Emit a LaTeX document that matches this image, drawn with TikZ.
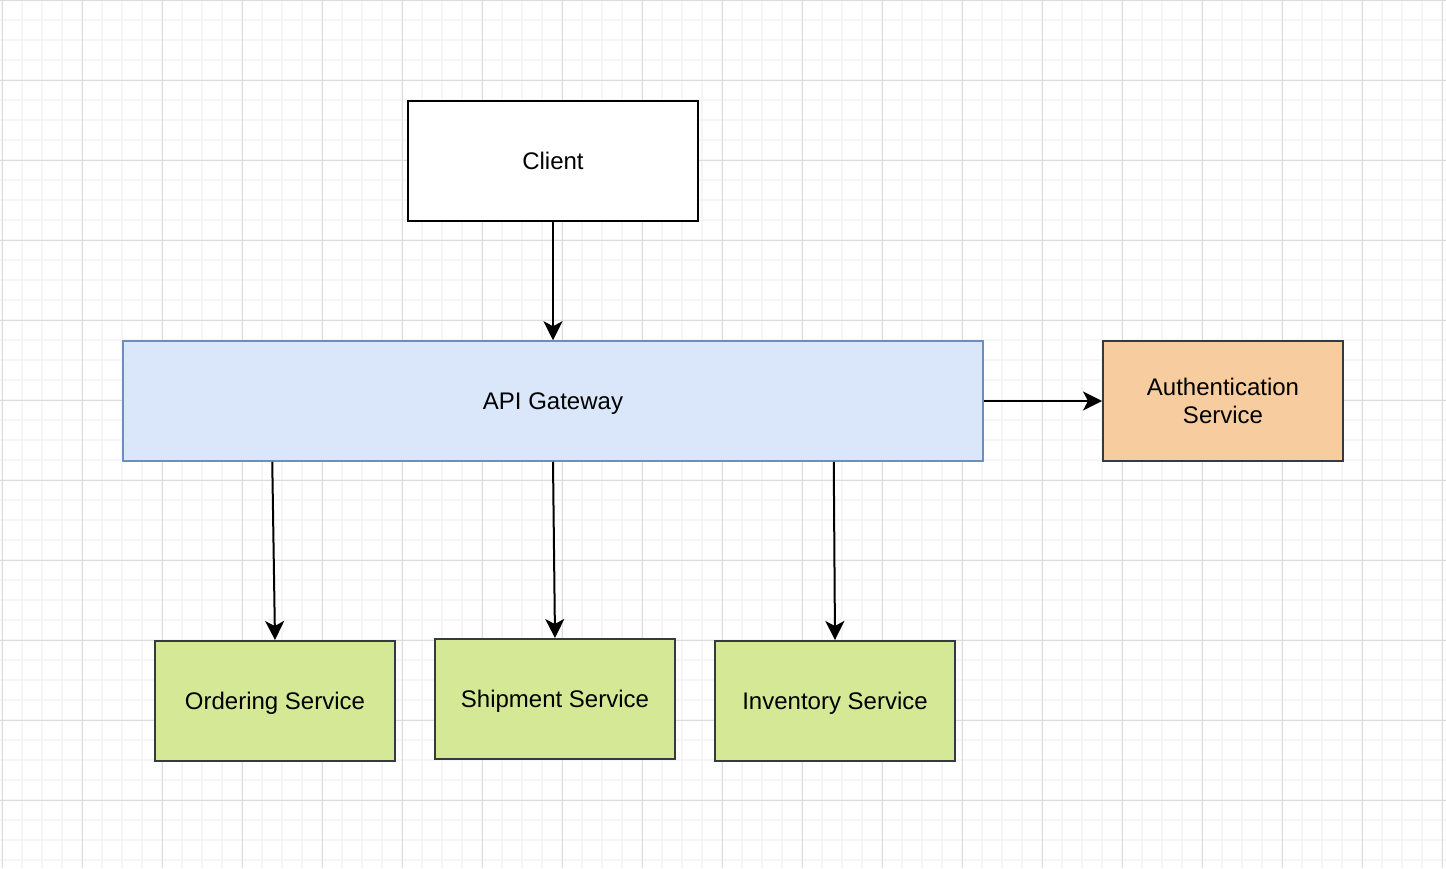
\documentclass[tikz,border=0pt]{standalone}
\usepackage{fontspec}
\setmainfont{Liberation Sans}
\usetikzlibrary{arrows.meta}
\definecolor{gridminor}{HTML}{F5F5F5}
\definecolor{gridmajor}{HTML}{DCDCDC}
\definecolor{apifill}{HTML}{DAE7FB}
\definecolor{apistroke}{HTML}{6C8EBF}
\definecolor{authfill}{HTML}{F7CD9F}
\definecolor{svcfill}{HTML}{D4E895}
\definecolor{darkstroke}{HTML}{36393D}
\tikzset{
  box/.style={draw, line width=2pt, minimum width=290pt, minimum height=120pt, inner sep=0pt, align=center, text depth=0pt, font=\fontsize{24}{28}\selectfont},
  svcbox/.style={box, fill=svcfill, draw=darkstroke, minimum width=240pt},
  arr/.style={line width=2pt, -{Stealth[length=19pt,width=19pt,inset=5pt]}},
}
\begin{document}
\begin{tikzpicture}[x=1pt,y=-1pt]
\useasboundingbox (0,0) rectangle (1446,868);
\fill[white] (0,0) rectangle (1446,868);
% minor grid
\foreach \x in {2,22,...,1446} \draw[gridminor, line width=2pt] (\x,0) -- (\x,868);
\foreach \y in {0,20,...,868} \draw[gridminor, line width=2pt] (0,\y) -- (1446,\y);
% major grid
\foreach \x in {2,82,...,1446} \draw[gridmajor, line width=1pt] (\x,0) -- (\x,868);
\foreach \y in {0,80,...,868} \draw[gridmajor, line width=1pt] (0,\y) -- (1446,\y);
% nodes
\node[box, draw=black, fill=white] (client) at (553,161) {Client};
\node[box, fill=apifill, draw=apistroke, line width=1.5pt, minimum width=860pt] (api) at (553,401) {API Gateway};
\node[box, fill=authfill, draw=darkstroke, minimum width=240pt] (auth) at (1223,401) {Authentication\\Service};
\node[svcbox] (ord) at (275,701) {Ordering Service};
\node[svcbox] (ship) at (555,699) {Shipment Service};
\node[svcbox] (inv) at (835,701) {Inventory Service};
% connectors
\draw[arr] (client.south) -- (api.north);
\draw[arr] (api.east) -- (auth.west);
\draw[arr] ([xshift=150pt]api.south west) -- (ord.north);
\draw[arr] (api.south) -- (ship.north);
\draw[arr] ([xshift=-150pt]api.south east) -- (inv.north);
\end{tikzpicture}
\end{document}
